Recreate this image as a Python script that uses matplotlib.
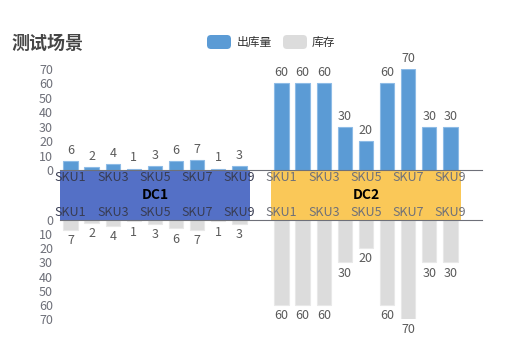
import matplotlib
matplotlib.use('Agg')
import matplotlib.pyplot as plt
from matplotlib.patches import FancyBboxPatch

plt.rcParams['font.family'] = ['Noto Sans CJK SC', 'DejaVu Sans']

# data
groups = ['DC1', 'DC2']
group_colors = ['#5470c6', '#fac858']
skus = ['SKU1', 'SKU2', 'SKU3', 'SKU4', 'SKU5', 'SKU6', 'SKU7', 'SKU8', 'SKU9']
outbound = [[6, 2, 4, 1, 3, 6, 7, 1, 3],
            [60, 60, 60, 30, 20, 60, 70, 30, 30]]
stock = [[7, 2, 4, 1, 3, 6, 7, 1, 3],
         [60, 60, 60, 30, 20, 60, 70, 30, 30]]
series_names = ['出库量', '库存']
yticks = [0, 10, 20, 30, 40, 50, 60, 70]

BLUE = '#5b9bd5'
GREY = '#dcdcdc'
AXIS = '#6e7079'
LABEL = '#5a5a5a'
# sku label colour over each band
band_text = ['#383c52', '#6e7079']

W, H = 528, 358
fig = plt.figure(figsize=(W / 100, H / 100), dpi=100)

def frac(x0, y_top, x1, y_bot):
    # pixel box -> figure fraction rect
    return [x0 / W, 1 - y_bot / H, (x1 - x0) / W, (y_bot - y_top) / H]

# one slot per sku, plus an empty slot after each group
slot = len(skus) + 1
xlim = (-0.5, slot * len(groups) - 0.5)
xs = [[g * slot + i for i in range(len(skus))] for g in range(len(groups))]
tick_pos = [p for g in xs for p in g[::2]]
tick_lab = [s for g in xs for s in skus[::2]]
tick_col = [band_text[g] for g in range(len(groups)) for _ in skus[::2]]

# middle band with group names
ax_mid = fig.add_axes(frac(60, 170, 482, 220))
ax_mid.set_xlim(*xlim)
ax_mid.set_ylim(0, 1)
ax_mid.axis('off')
for g, name in enumerate(groups):
    c = (xs[g][0] + xs[g][-1]) / 2
    ax_mid.bar(c, 1, width=len(skus), bottom=0, color=group_colors[g])
    ax_mid.text(c, 0.5, name, ha='center', va='center', fontsize=10,
                fontweight='bold', color='black')

# top: outbound
ax_top = fig.add_axes(frac(60, 69, 482, 170))
# bottom: stock, reversed
ax_bot = fig.add_axes(frac(60, 220, 482, 319))

for ax, data, color, edge, off in [(ax_top, outbound, BLUE, '#8dbbe6', 3),
                                   (ax_bot, stock, GREY, '#e8e8e8', -3)]:
    ax.patch.set_alpha(0)
    for g in range(len(groups)):
        ax.bar(xs[g], data[g], width=0.68, color=color,
               edgecolor=edge, linewidth=0.8)
        for x, v in zip(xs[g], data[g]):
            ax.annotate(str(v), (x, v), xytext=(0, off), textcoords='offset points',
                        ha='center', va='bottom' if off > 0 else 'top',
                        fontsize=9, color=LABEL)
    ax.set_xlim(*xlim)
    ax.set_yticks(yticks)
    ax.set_xticks(tick_pos)
    ax.set_xticklabels(tick_lab)
    ax.tick_params(axis='both', length=0, labelsize=9, colors=AXIS)
    ax.tick_params(axis='y', pad=5)
    for s in ax.spines.values():
        s.set_visible(False)

ax_top.set_ylim(0, 70)
ax_top.spines['bottom'].set_visible(True)
ax_top.spines['bottom'].set_color(AXIS)
ax_top.tick_params(axis='x', pad=1)

ax_bot.set_ylim(70, 0)
ax_bot.xaxis.tick_top()
ax_bot.spines['top'].set_visible(True)
ax_bot.spines['top'].set_color(AXIS)
ax_bot.tick_params(axis='x', pad=1)

for ax in (ax_top, ax_bot):
    for tick, c in zip(ax.xaxis.get_major_ticks(), tick_col):
        tick.label1.set_color(c)
        tick.label2.set_color(c)

# title
fig.text(12 / W, 1 - 43 / H, '测试场景', fontsize=13, fontweight='bold',
         color='#464646', va='center', ha='left')

# legend
for (x0, tx), name, color in zip([(207, 237), (283, 312)], series_names, [BLUE, GREY]):
    fig.add_artist(FancyBboxPatch((x0 / 100, (H - 49) / 100), 0.24, 0.14,
                                  boxstyle='round,pad=0,rounding_size=0.04',
                                  transform=fig.dpi_scale_trans,
                                  facecolor=color, edgecolor='none'))
    fig.text(tx / W, 1 - 42 / H, name, fontsize=8.5, color='#333333',
             va='center', ha='left')

fig.savefig('out.png', dpi=100)
